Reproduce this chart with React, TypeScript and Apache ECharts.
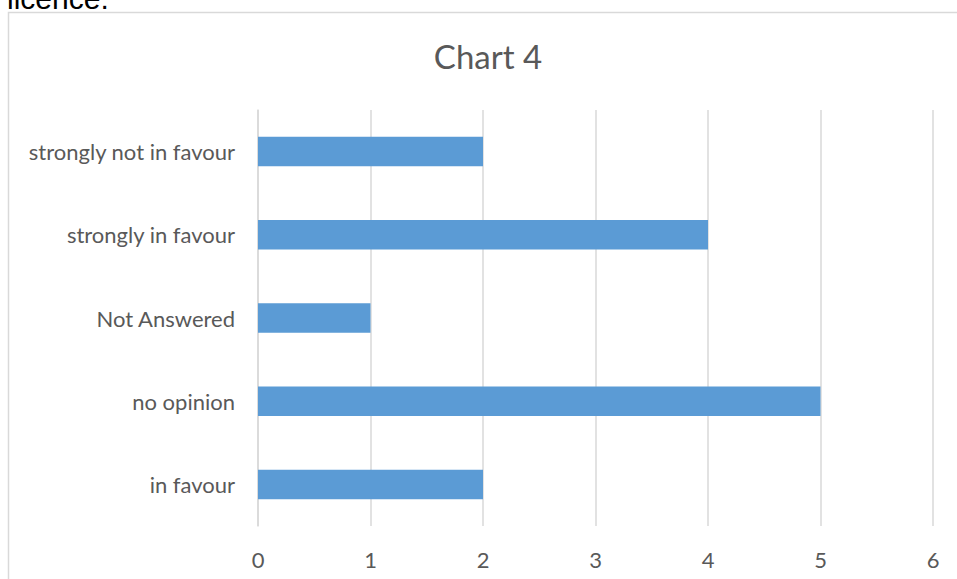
import React, { useEffect, useRef } from "react";
import * as echarts from "echarts";

const categories = ["in favour", "no opinion", "Not Answered", "strongly in favour", "strongly not in favour"];
const values = [2, 5, 1, 4, 2];
const chartTitle = "Chart 4";
const precedingText = "licence.";

export default function App() {
  const ref = useRef<HTMLDivElement>(null);
  useEffect(() => {
    if (!ref.current) return;
    const chart = echarts.init(ref.current, null, { renderer: "svg" });
    chart.setOption({
      animation: false,
      backgroundColor: "#ffffff",
      graphic: [
        {
          type: "rect",
          shape: { x: 8.5, y: 12.5, width: 1000, height: 700 },
          style: { fill: "none", stroke: "#D9D9D9", lineWidth: 1.5 },
          silent: true,
          z: -1,
        },
        {
          type: "text",
          x: 7,
          y: -17,
          style: {
            text: precedingText,
            font: "30px 'Liberation Sans', Arial, sans-serif",
            fill: "#000000",
          },
        },
        {
          type: "text",
          x: 488,
          y: 56,
          style: {
            text: chartTitle,
            font: "33px Lato, sans-serif",
            fill: "#595959",
            align: "center",
            verticalAlign: "middle",
          },
        },
      ],
      grid: { left: 258, right: 24, top: 110, bottom: 53, containLabel: false },
      xAxis: {
        type: "value",
        min: 0,
        max: 6,
        interval: 1,
        axisLine: { show: false },
        axisTick: { show: false },
        splitLine: { show: true, lineStyle: { color: "#D9D9D9", width: 1.5 } },
        axisLabel: { color: "#595959", fontFamily: "Lato", fontSize: 22, margin: 22 },
      },
      yAxis: {
        type: "category",
        data: categories,
        axisLine: { show: true, lineStyle: { color: "#D9D9D9", width: 1.5 } },
        axisTick: { show: false },
        axisLabel: { color: "#595959", fontFamily: "Lato", fontSize: 22, margin: 23 },
      },
      series: [
        {
          type: "bar",
          data: values,
          barWidth: "35.5%",
          itemStyle: { color: "#5B9BD5" },
        },
      ],
    });
    return () => chart.dispose();
  }, []);
  return (
    <div
      ref={ref}
      style={{ position: "absolute", left: 0, top: 0, width: 957, height: 579 }}
    />
  );
}
